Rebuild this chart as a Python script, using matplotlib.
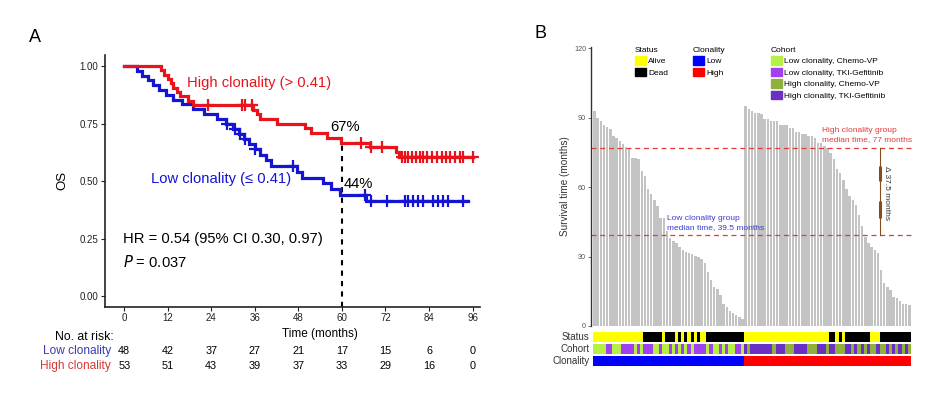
import numpy as np
import matplotlib
matplotlib.use('Agg')
import matplotlib.pyplot as plt
from matplotlib.patches import Patch
from matplotlib.transforms import blended_transform_factory

plt.rcParams['font.family'] = ['Liberation Sans', 'DejaVu Sans']

# ---------------- Panel A data (Kaplan-Meier) ----------------
low_step_t = [0, 3.6, 5.0, 6.5, 8.0, 9.5, 11.5, 13.5, 16.0, 19.0, 22.0, 25.5, 28.0, 30.0,
              31.5, 33.0, 34.5, 36.0, 37.5, 39.0, 40.5, 47.5, 48.9, 54.8, 57.0, 59.4, 66.5]
low_step_s = [1.0, .979, .958, .938, .917, .896, .875, .854, .833, .813, .792, .771, .750, .728,
              .706, .684, .661, .638, .614, .590, .565, .540, .515, .490, .465, .439, .415]
low_end = 94.8
low_censor = [28.2, 30.5, 31.9, 33.3, 36.0, 46.4, 66.3, 68.0, 72.3, 77.4, 78.3, 79.7, 81.1,
              82.4, 85.2, 86.5, 87.9, 89.3, 93.4]

high_step_t = [0, 10.1, 11.0, 12.0, 12.8, 13.5, 14.5, 15.5, 17.5, 19.0, 35.5, 36.5, 37.5, 42.0,
               49.8, 51.6, 55.8, 59.8, 67.8, 75.0, 75.8]
high_step_s = [1.0, .981, .962, .943, .925, .906, .887, .868, .849, .830, .810, .790, .770, .750,
               .729, .708, .687, .667, .646, .625, .606]
high_end = 96.2
high_censor = [23.2, 32.4, 33.3, 35.1, 65.2, 67.9, 71.1, 76.5, 77.4, 78.3, 79.2, 80.4, 81.5,
               82.4, 83.5, 84.7, 86.1, 87.5, 88.7, 89.8, 91.3, 92.5, 93.4, 96.2]

risk_times = [0, 12, 24, 36, 48, 60, 72, 84, 96]
risk_low = [48, 42, 37, 27, 21, 17, 15, 6, 0]
risk_high = [53, 51, 43, 39, 37, 33, 29, 16, 0]
y_ticks_A = [0.00, 0.25, 0.50, 0.75, 1.00]

# ---------------- Panel B data ----------------
low_surv_months = [93, 90, 88.5, 87, 86, 85, 82, 81, 80, 78.5, 77.5, 77, 72.6, 72.5, 72, 67,
                   65, 59, 57, 54.5, 52, 46.6, 46.5, 41, 38, 36.5, 35.7, 34.3, 33, 32, 31.4, 31,
                   30.4, 29.7, 29, 27, 23.4, 20, 17, 15.8, 13.3, 9.7, 8, 6.5, 5.5, 4.6, 3.9, 3.2]
high_surv_months = [95, 93.6, 93, 92, 92, 91.5, 89.6, 89.6, 88.6, 88.6, 88.6, 87, 87, 87, 85.7,
                    85.7, 83.8, 83.8, 82.8, 82.8, 82, 82, 81.3, 79, 79, 77.7, 77, 74.8, 72, 68,
                    66, 63, 59, 56, 54.6, 52.4, 48, 43, 38.6, 35.7, 34.3, 32.8, 31.4, 24, 18.4,
                    17, 15.5, 12.6, 12, 11, 9.7, 9.3, 9]
# A = Alive, D = Dead
low_status = "AAAAAAAAAAAAAAAADDDDDDADDDADADADADAADDDDDDDDDDDD"
high_status = "AAAAAAAAAAAAAAAAAAAAAAAAAAADDADADDDDDDDDAAADDDDDDDDDD"
# C = Chemo-VP, T = TKI-Gefitinib
low_cohort = "CCCCTTCCCTTTTCTCTTTCCTCCTCTCTCTCTTTTCTCCTCTCCTTC"
high_cohort = "TCTTTTTTTCTTTCCCTTTTCCCTTTCTTCCCTTCTCTCTCCTCCTCTCTCTC"
low_median = 39.5
high_median = 77

RED = '#e8131b'
BLUE = '#1414d2'

fig = plt.figure(figsize=(9.3, 3.99), dpi=100)
W, H = 930.0, 399.0

# ================= Panel A =================
axA = fig.add_axes([105 / W, 1 - 306.5 / H, (479.8 - 105) / W, (306.5 - 54.5) / H])
axA.set_xlim(-5.3, 98)
axA.set_ylim(-0.045, 1.05)


def draw_km(ax, t, s, end, cens, color):
    tt = list(t) + [end]
    ss = list(s) + [s[-1]]
    ax.step(tt, ss, where='post', color=color, lw=2.3, solid_joinstyle='miter', zorder=3)
    t_arr = np.array(t)
    s_arr = np.array(s)
    idx = np.searchsorted(t_arr, np.array(cens), side='right') - 1
    ax.plot(cens, s_arr[idx], ls='none', marker='+', ms=8, mew=1.6, color=color, zorder=4)


draw_km(axA, low_step_t, low_step_s, low_end, low_censor, BLUE)
draw_km(axA, high_step_t, high_step_s, high_end, high_censor, RED)

s60_high = high_step_s[np.searchsorted(high_step_t, 60, side='right') - 1]
axA.plot([60, 60], [-0.045, s60_high], ls=(0, (2.5, 2.5)), color='black', lw=1.5, zorder=2)

axA.text(17.2, 0.925, 'High clonality (> 0.41)', color=RED, fontsize=10.6, va='center', ha='left')
axA.text(7.5, 0.507, 'Low clonality (\u2264 0.41)', color=BLUE, fontsize=10.6, va='center', ha='left')
axA.text(56.7, 0.736, '67%', fontsize=10.6, va='center', ha='left')
axA.text(60.6, 0.487, '44%', fontsize=10.6, va='center', ha='left')
axA.text(-0.4, 0.247, 'HR = 0.54 (95% CI 0.30, 0.97)', fontsize=10.6, va='center', ha='left')
axA.text(-0.4, 0.149, '$\\it{P}$ = 0.037', fontsize=10.6, va='center', ha='left')

for sp in ['top', 'right']:
    axA.spines[sp].set_visible(False)
for sp in ['left', 'bottom']:
    axA.spines[sp].set_linewidth(1.2)
    axA.spines[sp].set_color('#222222')
axA.set_xticks(risk_times)
axA.set_yticks(y_ticks_A)
axA.set_yticklabels([f'{v:.2f}' for v in y_ticks_A])
axA.tick_params(labelsize=7, length=3, width=0.8, colors='#222222', pad=2)
axA.set_xlabel('Time (months)', fontsize=8.5)
axA.xaxis.set_label_coords(0.574, -0.085)
axA.set_ylabel('OS', fontsize=9.5)
axA.yaxis.set_label_coords(-0.098, 0.5)

tr = blended_transform_factory(axA.transData, fig.transFigure)
axA.text(-2.76, 1 - 336.7 / H, 'No. at risk:', transform=tr, ha='right', va='center', fontsize=8.8)
axA.text(-3.67, 1 - 351 / H, 'Low clonality', transform=tr, ha='right', va='center',
         fontsize=8.6, color='#3a3ab0')
axA.text(-3.67, 1 - 366 / H, 'High clonality', transform=tr, ha='right', va='center',
         fontsize=8.6, color='#d03a3a')
for xt, nl, nh in zip(risk_times, risk_low, risk_high):
    axA.text(xt, 1 - 351 / H, str(nl), transform=tr, ha='center', va='center', fontsize=7.8)
    axA.text(xt, 1 - 366 / H, str(nh), transform=tr, ha='center', va='center', fontsize=7.8)

fig.text(35 / W, 1 - 38 / H, 'A', fontsize=13, ha='center', va='center')
fig.text(540 / W, 1 - 33 / H, 'B', fontsize=13, ha='center', va='center')

# ================= Panel B =================
values = low_surv_months + high_surv_months
n = len(values)
xs = np.arange(n)
xl = (-1.135, 100.82)

axB = fig.add_axes([591 / W, 1 - 326 / H, (912 - 591) / W, (326 - 47) / H])
axB.bar(xs, values, width=0.78, color='#c3c3c3', zorder=1)
axB.set_xlim(*xl)
axB.set_ylim(0, 120.5)
axB.axhline(high_median, color='#e03c3c', ls=(0, (4, 3)), lw=0.9, zorder=2)
axB.axhline(low_median, color='#e03c3c', ls=(0, (4, 3)), lw=0.9, zorder=2)
for sp in ['top', 'right', 'bottom']:
    axB.spines[sp].set_visible(False)
axB.spines['left'].set_color('#333333')
axB.spines['left'].set_linewidth(1.0)
axB.set_xticks([])
axB.set_yticks([0, 30, 60, 90, 120])
axB.tick_params(axis='y', labelsize=5.2, length=2, width=0.6, colors='#555555', pad=1.5)
axB.set_ylabel('Survival time (months)', fontsize=7.2, color='#333333', labelpad=3)

axB.text(72.1, 79, 'High clonality group\nmedian time, 77 months', color='#e03c3c',
         fontsize=6, ha='left', va='bottom', linespacing=1.45)
axB.text(22.9, 41, 'Low clonality group\nmedian time, 39.5 months', color='#3b3bd0',
         fontsize=6, ha='left', va='bottom', linespacing=1.45)
ax_x = 90.6
axB.plot([ax_x, ax_x], [low_median, high_median], color='#8b4a1c', lw=0.8, zorder=3)
axB.plot([ax_x, ax_x], [63, 68.7], color='#8b4a1c', lw=2.2, zorder=3, solid_capstyle='round')
axB.plot([ax_x, ax_x], [47.1, 53.6], color='#8b4a1c', lw=2.2, zorder=3, solid_capstyle='round')
axB.text(92.8, 57.6, '\u0394 37.5 months', rotation=270, fontsize=6, color='#333333',
         ha='center', va='center')

# strips
status = low_status + high_status
status_cols = ['#ffff00' if c == 'A' else '#000000' for c in status]
cohort_cols = ([('#b6ef46' if c == 'C' else '#a040f0') for c in low_cohort] +
               [('#8fb03c' if c == 'C' else '#6a2fc3') for c in high_cohort])
clon_cols = ['#0000ff'] * len(low_surv_months) + ['#ff0000'] * len(high_surv_months)

strip_specs = [('Status', status_cols, 331.5, 342), ('Cohort', cohort_cols, 343.5, 353.5),
               ('Clonality', clon_cols, 356, 366)]
for label, cols, top, bot in strip_specs:
    ax = fig.add_axes([591 / W, 1 - bot / H, (912 - 591) / W, (bot - top) / H])
    ax.bar(xs, np.ones(n), width=1.0, color=cols, linewidth=0)
    ax.set_xlim(*xl)
    ax.set_ylim(0, 1)
    ax.axis('off')
    ax.text(-0.004, 0.5, label, transform=ax.transAxes, ha='right', va='center',
            fontsize=7, color='#333333')

# legends
lkw = dict(loc='upper left', frameon=False, fontsize=6, title_fontsize=6,
           handlelength=1.3, handleheight=1.2, handletextpad=0.25, labelspacing=0.28,
           borderpad=0, borderaxespad=0, alignment='left')
fig.legend(handles=[Patch(color='#ffff00', label='Alive'), Patch(color='#000000', label='Dead')],
           title='Status', bbox_to_anchor=(635 / W, 1 - 47 / H), **lkw)
fig.legend(handles=[Patch(color='#0000ff', label='Low'), Patch(color='#ff0000', label='High')],
           title='Clonality', bbox_to_anchor=(693 / W, 1 - 47 / H), **lkw)
fig.legend(handles=[Patch(color='#b6ef46', label='Low clonality, Chemo-VP'),
                    Patch(color='#a040f0', label='Low clonality, TKI-Gefitinib'),
                    Patch(color='#8fb03c', label='High clonality, Chemo-VP'),
                    Patch(color='#6a2fc3', label='High clonality, TKI-Gefitinib')],
           title='Cohort', bbox_to_anchor=(771 / W, 1 - 47 / H), **lkw)

fig.savefig('out.png', dpi=100)
